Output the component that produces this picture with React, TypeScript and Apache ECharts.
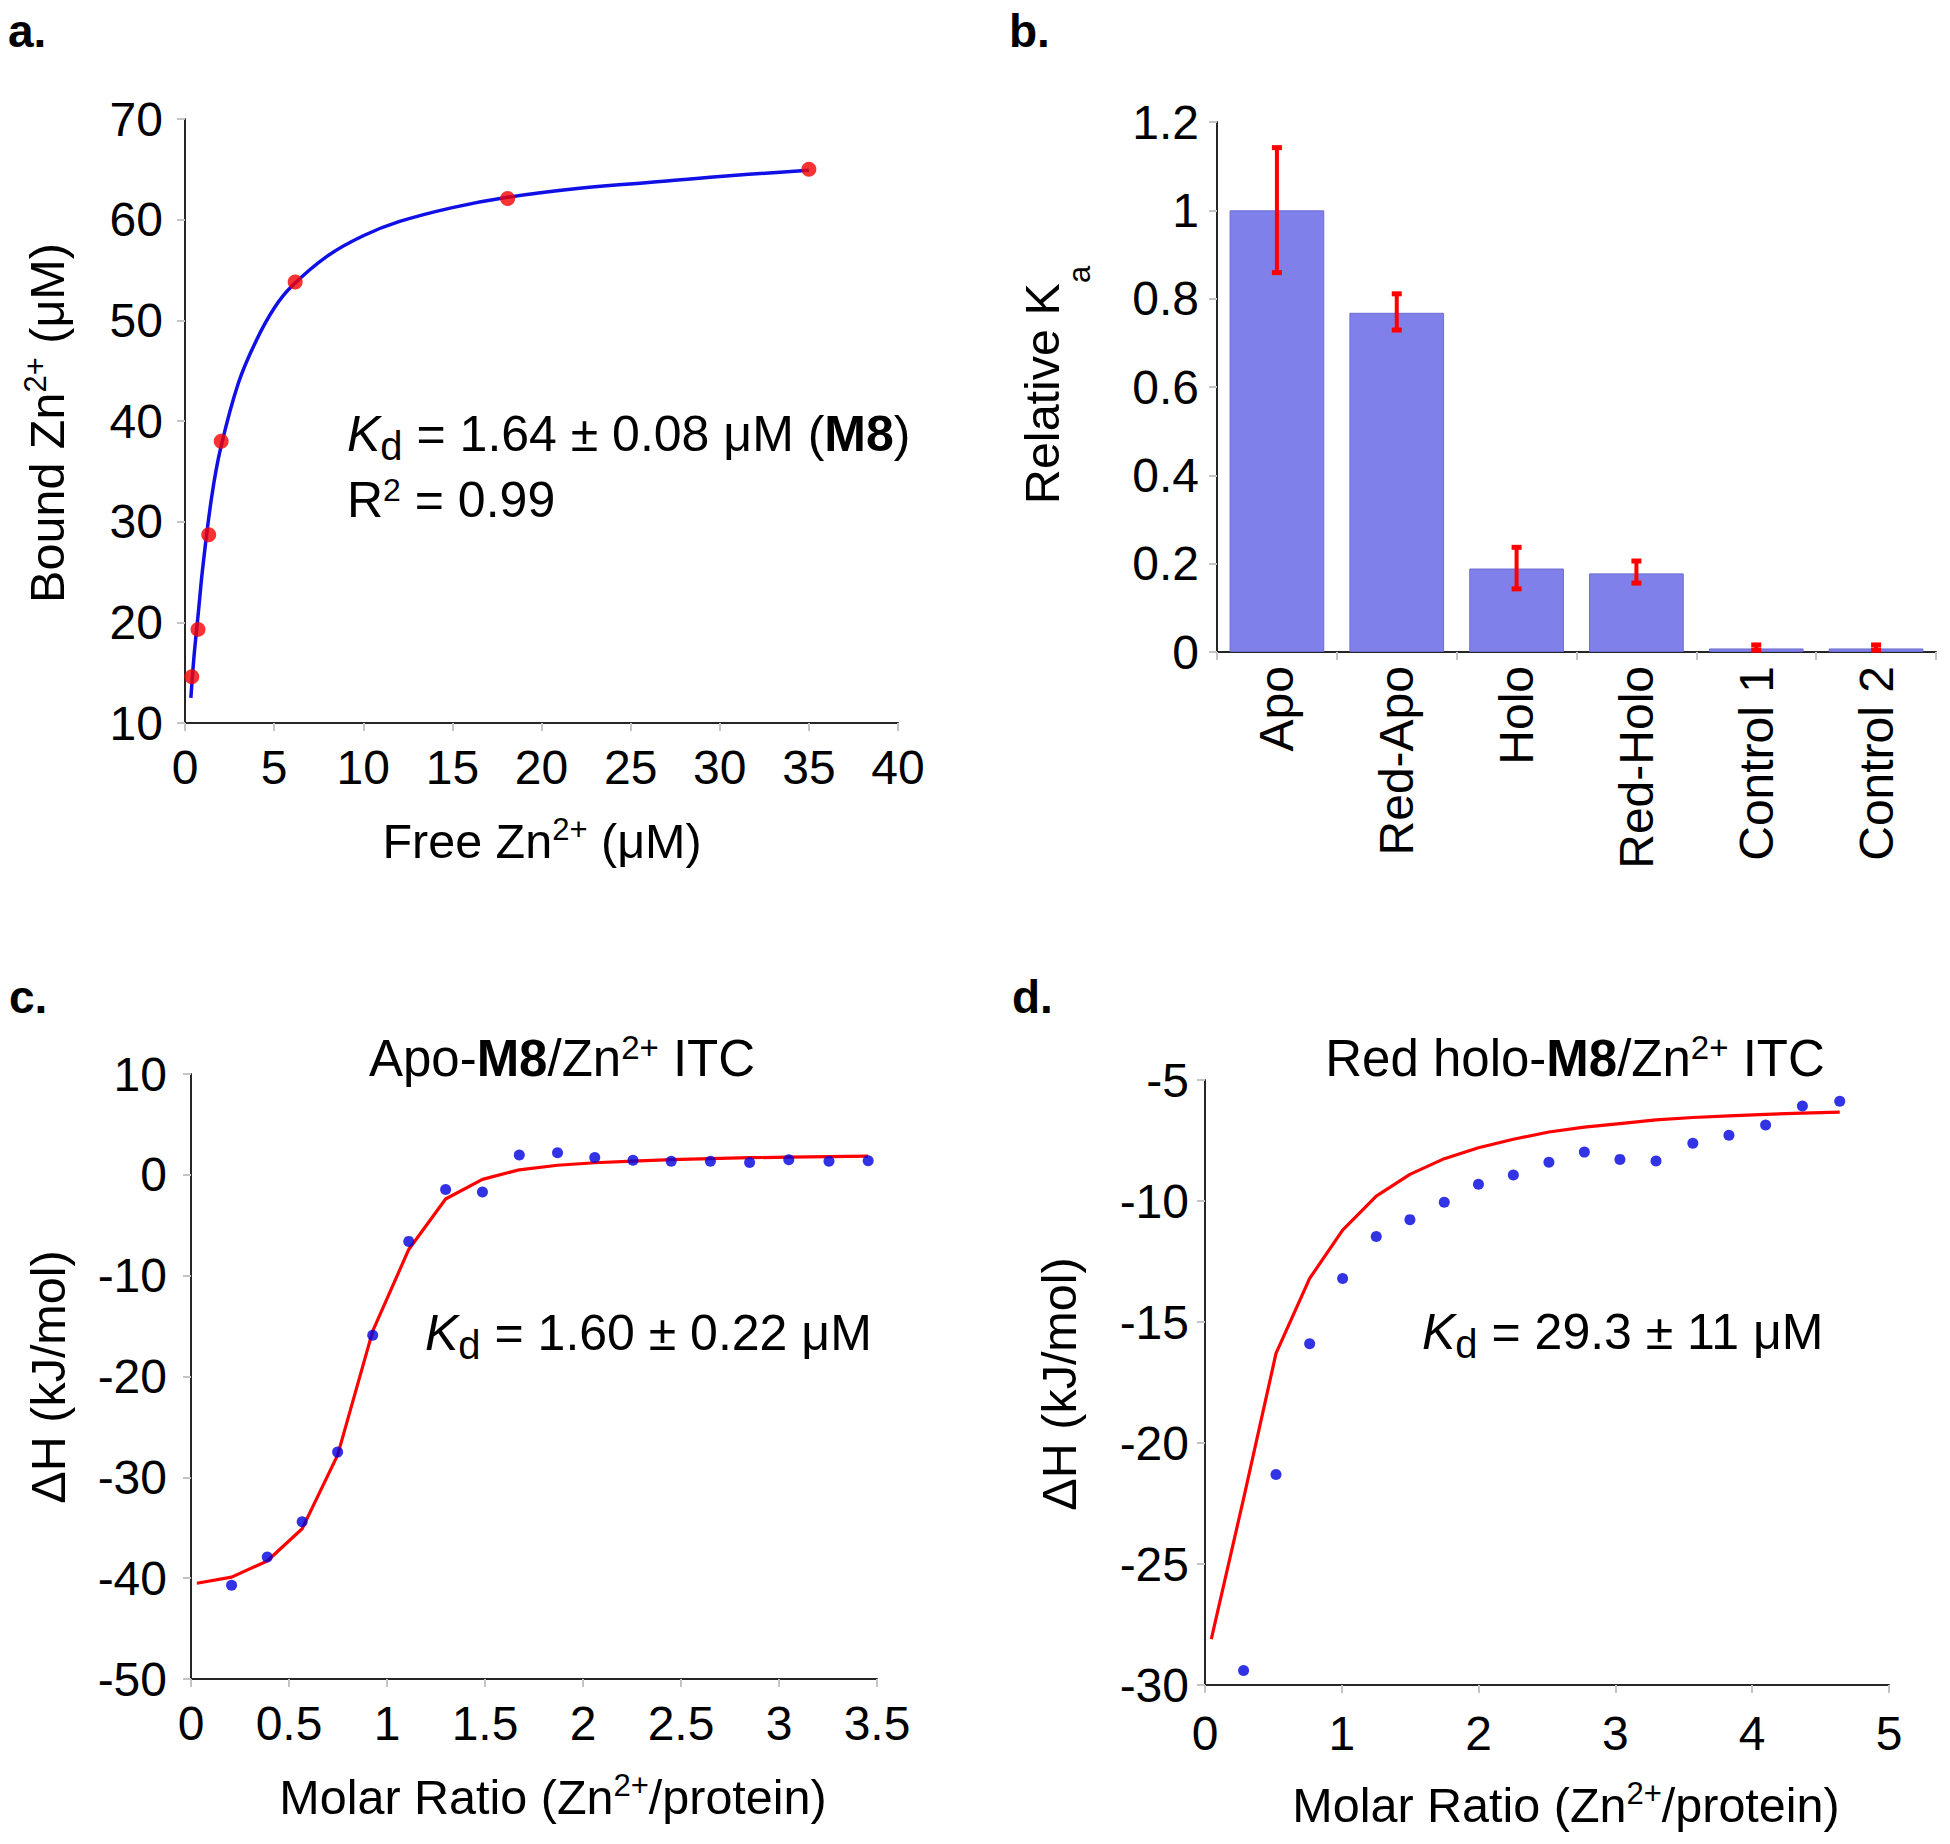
import React, { useEffect, useRef } from 'react';
import * as echarts from 'echarts';

const FONT = '"Liberation Sans", Arial, Helvetica, sans-serif';

// ---------- Panel a: Bound vs Free Zn2+ ----------
const aFreeZn = [0.38, 0.73, 1.33, 2.03, 6.18, 18.1, 35.0];
const aBoundZn = [14.6, 19.3, 28.7, 38.0, 53.8, 62.1, 65.0];
const aFitFree = [0.33, 0.5, 0.75, 1, 1.5, 2, 3, 4, 5, 6, 8, 10, 12, 15, 18, 22, 26, 30, 35];
const aFitBound = [12.5, 16.5, 21.0, 25.5, 32.5, 37.3, 43.8, 48.0, 51.2, 53.4, 56.4, 58.4, 59.8, 61.2, 62.2, 63.1, 63.7, 64.3, 64.9];

// ---------- Panel b: Relative Ka ----------
const bCategories = ['Apo', 'Red-Apo', 'Holo', 'Red-Holo', 'Control 1', 'Control 2'];
const bValues = [1.0, 0.768, 0.189, 0.178, 0.008, 0.008];
const bErrLow = [0.859, 0.729, 0.143, 0.156, 0.004, 0.004];
const bErrHigh = [1.142, 0.811, 0.237, 0.206, 0.016, 0.016];

// ---------- Panel c: Apo-M8 ITC ----------
const cRatio = [0.207, 0.389, 0.567, 0.748, 0.927, 1.111, 1.299, 1.487, 1.675, 1.87, 2.06, 2.255, 2.45, 2.65, 2.85, 3.05, 3.255, 3.455];
const cDeltaH = [-40.7, -37.9, -34.4, -27.5, -15.9, -6.6, -1.45, -1.7, 1.96, 2.18, 1.73, 1.45, 1.34, 1.34, 1.23, 1.5, 1.34, 1.4];
const cFitRatio = [0.03, 0.207, 0.389, 0.567, 0.748, 0.927, 1.111, 1.299, 1.487, 1.675, 1.87, 2.06, 2.255, 2.45, 2.65, 2.85, 3.05, 3.255, 3.455];
const cFitDeltaH = [-40.5, -39.9, -38.3, -35.1, -27.8, -15.5, -7.4, -2.4, -0.45, 0.5, 0.95, 1.2, 1.35, 1.5, 1.6, 1.7, 1.75, 1.8, 1.85];

// ---------- Panel d: Red holo-M8 ITC ----------
const dRatio = [0.282, 0.519, 0.765, 1.006, 1.252, 1.498, 1.749, 1.999, 2.254, 2.514, 2.773, 3.033, 3.297, 3.566, 3.83, 4.098, 4.367, 4.64];
const dDeltaH = [-29.4, -21.3, -15.9, -13.2, -11.47, -10.77, -10.05, -9.31, -8.93, -8.4, -7.98, -8.28, -8.35, -7.61, -7.28, -6.86, -6.07, -5.88];
const dFitRatio = [0.046, 0.282, 0.519, 0.765, 1.006, 1.252, 1.498, 1.749, 1.999, 2.254, 2.514, 2.773, 3.033, 3.297, 3.566, 3.83, 4.098, 4.367, 4.64];
const dFitDeltaH = [-28.1, -22.3, -16.3, -13.2, -11.2, -9.8, -8.9, -8.25, -7.8, -7.45, -7.15, -6.95, -6.8, -6.65, -6.55, -6.48, -6.42, -6.37, -6.33];

const zip = (xs: number[], ys: number[]) => xs.map((x, i) => [x, ys[i]]);

const makeRich = (s: number) => ({
  n: { fontSize: s, fontFamily: FONT, fill: '#000' },
  i: { fontSize: s, fontFamily: FONT, fill: '#000', fontStyle: 'italic' },
  b: { fontSize: s, fontFamily: FONT, fill: '#000', fontWeight: 'bold' },
  sup: { fontSize: Math.round(s * 0.64), fontFamily: FONT, fill: '#000', padding: [0, 0, Math.round(s * 0.5), 0] },
  sup2: { fontSize: Math.round(s * 0.64), fontFamily: FONT, fill: '#000', padding: [0, 0, Math.round(s * 0.42), 0] },
  sub: { fontSize: Math.round(s * 0.8), fontFamily: FONT, fill: '#000', padding: [Math.round(s * 0.48), 0, 0, 0] },
  sub2: { fontSize: Math.round(s * 0.64), fontFamily: FONT, fill: '#000', padding: [Math.round(s * 1.55), 0, 0, 0] },
});

const txt = (x: number, y: number, text: string, align: string, size: number, rotation = 0) => ({
  type: 'text',
  x,
  y,
  rotation,
  silent: true,
  style: { text, rich: makeRich(size), align, verticalAlign: 'middle', fill: '#000', fontSize: size, fontFamily: FONT },
});

const letter = (x: number, y: number, t: string) => ({
  type: 'text',
  x,
  y,
  silent: true,
  style: { text: t, fill: '#000', fontSize: 46, fontWeight: 'bold', fontFamily: FONT, align: 'left', verticalAlign: 'middle' },
});

const axisBase = (extra: any) => ({
  axisLine: { show: true, onZero: false, lineStyle: { color: '#262626', width: 2 } },
  axisTick: { show: true, length: 8, lineStyle: { color: '#c4c4c4', width: 2 } },
  splitLine: { show: false },
  ...extra,
  axisLabel: { color: '#000', fontSize: 48, fontFamily: FONT, ...(extra.axisLabel || {}) },
});

const ANNO = 50;
const TITLE = 51;
const NAME = 48.5;

export default function App() {
  const ref = useRef<HTMLDivElement>(null);
  useEffect(() => {
    document.body.style.margin = '0';
    const chart = echarts.init(ref.current!, null, { renderer: 'svg' });
    const option: any = {
      animation: false,
      backgroundColor: '#fff',
      grid: [
        { left: 185, top: 119, width: 713, height: 604 },
        { left: 1217, top: 122, width: 719, height: 530 },
        { left: 191, top: 1074, width: 686, height: 605 },
        { left: 1205, top: 1080, width: 684, height: 605 },
      ],
      xAxis: [
        axisBase({ type: 'value', gridIndex: 0, min: 0, max: 40, interval: 5, axisLabel: { margin: 20 } }),
        axisBase({
          type: 'category', gridIndex: 1, data: bCategories, boundaryGap: true,
          axisTick: { show: true, length: 8, alignWithLabel: false, lineStyle: { color: '#c4c4c4', width: 2 } },
          axisLabel: { rotate: 90, margin: 14, interval: 0 },
        }),
        axisBase({ type: 'value', gridIndex: 2, min: 0, max: 3.5, interval: 0.5, axisLabel: { margin: 20 } }),
        axisBase({ type: 'value', gridIndex: 3, min: 0, max: 5, interval: 1, axisLabel: { margin: 24 } }),
      ],
      yAxis: [
        axisBase({ type: 'value', gridIndex: 0, min: 10, max: 70, interval: 10, axisLabel: { margin: 22 } }),
        axisBase({ type: 'value', gridIndex: 1, min: 0, max: 1.2, interval: 0.2, axisLabel: { margin: 18 } }),
        axisBase({ type: 'value', gridIndex: 2, min: -50, max: 10, interval: 10, axisLabel: { margin: 24 } }),
        axisBase({ type: 'value', gridIndex: 3, min: -30, max: -5, interval: 5, axisLabel: { margin: 16 } }),
      ],
      series: [
        {
          type: 'line', xAxisIndex: 0, yAxisIndex: 0, data: zip(aFitFree, aFitBound),
          smooth: 0.4, showSymbol: false, lineStyle: { color: '#0f0fe6', width: 3.5 }, z: 2,
        },
        {
          type: 'scatter', xAxisIndex: 0, yAxisIndex: 0, data: zip(aFreeZn, aBoundZn),
          symbolSize: 15, itemStyle: { color: '#f50000' }, z: 3,
        },
        {
          type: 'bar', xAxisIndex: 1, yAxisIndex: 1, data: bValues, barCategoryGap: '21%',
          itemStyle: { color: '#8080ea', borderColor: '#6c6cd2', borderWidth: 1 },
        },
        {
          type: 'custom', xAxisIndex: 1, yAxisIndex: 1,
          data: bCategories.map((_, i) => [i, bErrLow[i], bErrHigh[i]]),
          encode: { x: 0, y: [1, 2] },
          z: 5,
          renderItem: (params: any, api: any) => {
            const idx = api.value(0);
            const lo = api.coord([idx, api.value(1)]);
            const hi = api.coord([idx, api.value(2)]);
            const st = { stroke: '#ff0000', lineWidth: 4 };
            return {
              type: 'group',
              children: [
                { type: 'line', shape: { x1: lo[0], y1: lo[1], x2: hi[0], y2: hi[1] }, style: st },
                { type: 'rect', shape: { x: hi[0] - 5, y: hi[1] - 2.5, width: 10, height: 5 }, style: { fill: '#ff0000' } },
                { type: 'rect', shape: { x: lo[0] - 5, y: lo[1] - 2.5, width: 10, height: 5 }, style: { fill: '#ff0000' } },
              ],
            };
          },
        },
        {
          type: 'line', xAxisIndex: 2, yAxisIndex: 2, data: zip(cFitRatio, cFitDeltaH),
          showSymbol: false, lineStyle: { color: '#ff0000', width: 3.2 }, z: 2,
        },
        {
          type: 'scatter', xAxisIndex: 2, yAxisIndex: 2, data: zip(cRatio, cDeltaH),
          symbolSize: 11, itemStyle: { color: '#0000e0' }, z: 3,
        },
        {
          type: 'line', xAxisIndex: 3, yAxisIndex: 3, data: zip(dFitRatio, dFitDeltaH),
          showSymbol: false, lineStyle: { color: '#ff0000', width: 3.2 }, z: 2,
        },
        {
          type: 'scatter', xAxisIndex: 3, yAxisIndex: 3, data: zip(dRatio, dDeltaH),
          symbolSize: 11, itemStyle: { color: '#0000e0' }, z: 3,
        },
      ],
      graphic: [
        letter(8, 31, 'a.'),
        letter(1009, 31, 'b.'),
        letter(9, 997, 'c.'),
        letter(1012, 997, 'd.'),
        // panel a
        txt(47, 423, '{n|Bound Zn}{sup|2+}{n| (μM)}', 'center', NAME, Math.PI / 2),
        txt(542, 841, '{n|Free Zn}{sup|2+}{n| (μM)}', 'center', NAME),
        txt(347, 434, '{i|K}{sub|d}{n| = 1.64 ± 0.08 μM (}{b|M8}{n|)}', 'left', ANNO),
        txt(347, 500, '{n|R}{sup2|2}{n| = 0.99}', 'left', ANNO),
        // panel b
        txt(1042, 385, '{n|Relative K}{sub2|a}', 'center', NAME, Math.PI / 2),
        // panel c
        txt(562, 1058, '{n|Apo-}{b|M8}{n|/Zn}{sup2|2+}{n| ITC}', 'center', TITLE),
        txt(425, 1333, '{i|K}{sub|d}{n| = 1.60 ± 0.22 μM}', 'left', ANNO),
        txt(553, 1797, '{n|Molar Ratio (Zn}{sup|2+}{n|/protein)}', 'center', NAME),
        txt(48, 1377, '{n|ΔH (kJ/mol)}', 'center', NAME, Math.PI / 2),
        // panel d
        txt(1575, 1058, '{n|Red holo-}{b|M8}{n|/Zn}{sup2|2+}{n| ITC}', 'center', TITLE),
        txt(1422, 1332, '{i|K}{sub|d}{n| = 29.3 ± 11 μM}', 'left', ANNO),
        txt(1566, 1805, '{n|Molar Ratio (Zn}{sup|2+}{n|/protein)}', 'center', NAME),
        txt(1059, 1384, '{n|ΔH (kJ/mol)}', 'center', NAME, Math.PI / 2),
      ],
    };
    chart.setOption(option);
    return () => chart.dispose();
  }, []);
  return <div ref={ref} style={{ width: 1950, height: 1844 }} />;
}
